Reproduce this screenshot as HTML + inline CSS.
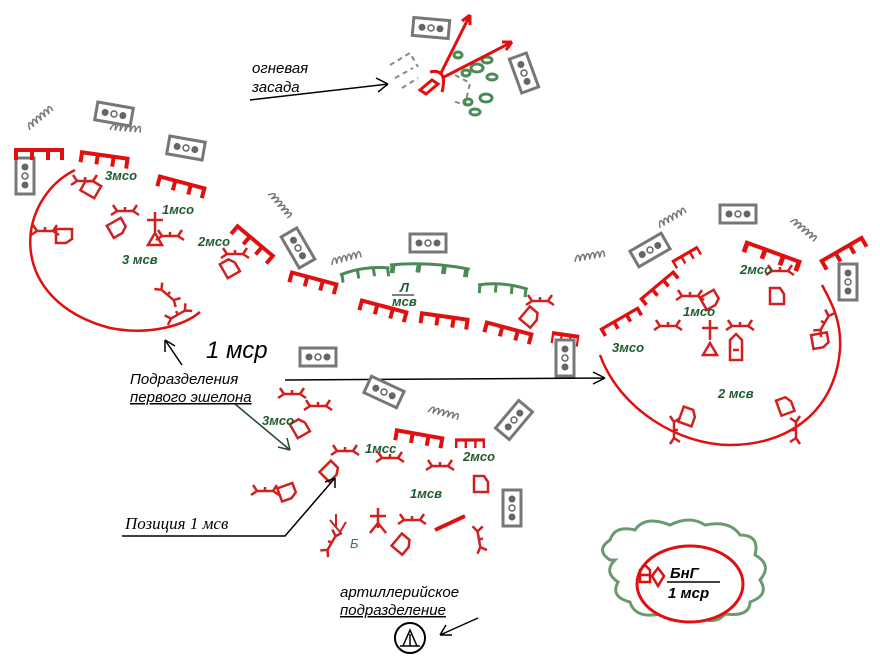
<!DOCTYPE html>
<html><head><meta charset="utf-8"><style>
html,body{margin:0;padding:0;background:#fff;width:880px;height:670px;overflow:hidden}
svg text{font-family:"Liberation Sans",sans-serif;font-style:italic}
</style></head><body>
<svg width="880" height="670" viewBox="0 0 880 670" xmlns="http://www.w3.org/2000/svg">
<defs>
<g id="veh"><rect x="-18" y="-9" width="36" height="18" fill="#fff" stroke="#777" stroke-width="3"/><circle cx="-9" cy="0" r="3.5" fill="#666"/><circle cx="0" cy="0" r="3" fill="none" stroke="#666" stroke-width="1.5"/><circle cx="9" cy="0" r="3.5" fill="#666"/></g>
<g id="coil" fill="none" stroke="#777" stroke-width="1.5"><path d="M0,0 c3,-8 6,-8 5,0 c3,-8 6,-8 5,0 c3,-8 6,-8 5,0 c3,-8 6,-8 5,0 c3,-8 6,-8 5,0 c3,-8 6,-8 5,0"/></g>
<g id="trR" fill="none" stroke="#e01010" stroke-width="4"><path d="M0,0 L50,0 M2,0 v10 M18,0 v10 M34,0 v10 M48,0 v10"/></g>
<g id="trG" fill="none" stroke="#4a8a55" stroke-width="3"><path d="M0,0 Q25,-6 50,0 M2,0 v8 M18,-2 v8 M34,-2 v8 M48,0 v8"/></g>
<g id="sq" fill="none" stroke="#d02020" stroke-width="2.5"><path d="M-8,-4 l-4,-6 M-8,-4 l-6,4 M-8,-4 h16 M8,-4 l4,-6 M8,-4 l6,4 M0,-4 v-4"/></g>
<g id="veh2" fill="none" stroke="#d02020" stroke-width="2.5"><path d="M-6,-10 h10 l4,6 v10 h-14 z"/></g>
</defs>

<!-- top fire ambush -->
<use href="#veh" transform="translate(431,28) rotate(5)"/>
<use href="#veh" transform="translate(524,73) rotate(70)"/>
<g fill="none" stroke="#888" stroke-width="2" stroke-dasharray="5,4"><path d="M390,65 l20,-12 l8,14 M395,78 l18,-10 M402,88 l16,-10"/><path d="M455,75 l15,8 l-5,22 l-12,-4"/></g>
<g fill="none" stroke="#4a8a55" stroke-width="3"><ellipse cx="458" cy="55" rx="4" ry="3"/><ellipse cx="487" cy="60" rx="5" ry="3"/><ellipse cx="477" cy="68" rx="6" ry="4"/><ellipse cx="466" cy="73" rx="4" ry="3"/><ellipse cx="492" cy="77" rx="5" ry="3"/><ellipse cx="486" cy="98" rx="6" ry="4"/><ellipse cx="468" cy="102" rx="4" ry="3"/><ellipse cx="475" cy="112" rx="5" ry="3"/></g>
<g fill="none" stroke="#e01010" stroke-width="3"><path d="M420,90 l12,-10 l6,4 l-12,10 z"/><path d="M430,72 q18,-4 12,20"/><path d="M440,75 L470,15 M470,15 l-8,6 M470,15 l0,10 M442,78 L512,42 M512,42 l-10,0 M512,42 l-6,8"/></g>
<text x="252" y="73" font-size="15">огневая</text><text x="252" y="92" font-size="15">засада</text>
<path d="M250,100 L388,84 M388,84 l-12,-6 M388,84 l-10,8" stroke="#000" stroke-width="1.5" fill="none"/>

<!-- left area -->
<use href="#veh" transform="translate(114,114) rotate(10)"/>
<use href="#veh" transform="translate(186,148) rotate(10)"/>
<use href="#veh" transform="translate(25,176) rotate(90)"/>
<use href="#veh" transform="translate(298,248) rotate(60)"/>
<use href="#coil" transform="translate(30,130) rotate(-40)"/>
<use href="#coil" transform="translate(110,130) rotate(5)"/>
<use href="#coil" transform="translate(268,195) rotate(50)"/>
<use href="#trR" transform="translate(14,150)"/>
<use href="#trR" transform="translate(80,152) rotate(8)"/>
<use href="#trR" transform="translate(158,176) rotate(15)"/>
<use href="#trR" transform="translate(236,225) rotate(40)"/>
<path d="M75,170 C15,200 5,300 110,328 C150,336 185,325 200,312" fill="none" stroke="#e01010" stroke-width="2.5"/>
<g transform="translate(85,185)"><use href="#sq"/></g><use href="#veh2" transform="translate(92,190) rotate(-60)"/>
<use href="#sq" transform="translate(125,215)"/><use href="#veh2" transform="translate(115,228) rotate(60)"/>
<use href="#sq" transform="translate(45,235)"/><use href="#veh2" transform="translate(62,235) rotate(90)"/>
<use href="#sq" transform="translate(170,240)"/>
<path d="M155,212 v20 M147,220 h16 M148,245 l7,-12 l7,12 z" stroke="#d02020" stroke-width="2.5" fill="none"/>
<use href="#sq" transform="translate(235,258)"/><use href="#veh2" transform="translate(230,270) rotate(-30)"/>
<use href="#sq" transform="translate(165,298) rotate(40)"/><use href="#sq" transform="translate(180,318) rotate(-30)"/>
<g fill="#1f5a2e" font-size="13" font-weight="bold"><text x="105" y="180">3мсо</text><text x="162" y="214">1мсо</text><text x="198" y="246">2мсо</text><text x="122" y="264">3 мсв</text></g>

<!-- middle line -->
<use href="#trR" transform="translate(290,272) rotate(15)"/>
<use href="#trR" transform="translate(360,300) rotate(15)"/>
<use href="#trR" transform="translate(420,313) rotate(8)"/>
<use href="#trR" transform="translate(485,322) rotate(15)"/>
<use href="#trR" transform="translate(552,333) rotate(8) scale(0.55,1)"/>
<use href="#trG" transform="translate(340,275) rotate(-8)"/>
<use href="#trG" transform="translate(390,265) scale(1.6,1) rotate(5)"/>
<use href="#trG" transform="translate(478,285) rotate(5)"/>
<use href="#veh" transform="translate(428,243)"/>
<use href="#veh" transform="translate(318,357)"/>
<use href="#veh" transform="translate(565,358) rotate(90)"/>
<use href="#coil" transform="translate(332,265) rotate(-15)"/>
<use href="#sq" transform="translate(540,305)"/><use href="#veh2" transform="translate(528,318) rotate(40)"/>
<g fill="#1f5a2e" font-size="13" font-weight="bold"><text x="400" y="292">Л</text><text x="392" y="306">мсв</text></g>
<path d="M392,295 h22" stroke="#000" stroke-width="1"/>

<!-- right area -->
<use href="#veh" transform="translate(650,250) rotate(-30)"/>
<use href="#veh" transform="translate(738,214)"/>
<use href="#veh" transform="translate(848,282) rotate(90)"/>
<use href="#coil" transform="translate(575,262) rotate(-10)"/>
<use href="#coil" transform="translate(660,228) rotate(-30)"/>
<use href="#coil" transform="translate(790,222) rotate(40)"/>
<use href="#trR" transform="translate(745,242) rotate(20) scale(1.2,1)"/>
<use href="#trR" transform="translate(820,262) rotate(-30) scale(1,1)"/>
<use href="#trR" transform="translate(600,330) rotate(-30) scale(0.9,0.8)"/>
<use href="#trR" transform="translate(640,300) rotate(-40) scale(0.9,0.8)"/>
<use href="#trR" transform="translate(672,262) rotate(-30) scale(0.6,0.8)"/>
<path d="M600,355 C620,410 680,445 730,445 C790,445 835,410 840,350 C842,320 830,300 822,285" fill="none" stroke="#e01010" stroke-width="2.5"/>
<use href="#sq" transform="translate(690,300)"/><use href="#veh2" transform="translate(708,300) rotate(60)"/>
<use href="#sq" transform="translate(668,330)"/><use href="#sq" transform="translate(740,330)"/>
<path d="M710,320 v20 M702,328 h16 M703,355 l7,-12 l7,12 z" stroke="#d02020" stroke-width="2.5" fill="none"/>
<path d="M730,360 v-20 l6,-6 l6,6 v20 z M733,350 h6" stroke="#d02020" stroke-width="2.5" fill="none"/>
<use href="#sq" transform="translate(780,275)"/><use href="#veh2" transform="translate(776,298)"/>
<use href="#sq" transform="translate(828,325) rotate(-60)"/><use href="#veh2" transform="translate(818,340) rotate(80)"/>
<use href="#veh2" transform="translate(686,418) rotate(20)"/><use href="#sq" transform="translate(670,430) rotate(90)"/>
<use href="#veh2" transform="translate(785,408) rotate(-20)"/><use href="#sq" transform="translate(800,430) rotate(-90)"/>
<g fill="#1f5a2e" font-size="13" font-weight="bold"><text x="740" y="274">2мсо</text><text x="683" y="316">1мсо</text><text x="612" y="352">3мсо</text><text x="718" y="398">2 мсв</text></g>

<!-- labels -->
<text x="206" y="358" font-size="24">1 мср</text>
<path d="M182,365 L165,340 M165,340 l0,12 M165,340 l10,6" stroke="#000" stroke-width="1.5" fill="none"/>
<text x="130" y="384" font-size="15">Подразделения</text>
<text x="130" y="402" font-size="15" text-decoration="underline">первого эшелона</text>
<path d="M285,380 L605,378 M605,378 l-12,-6 M605,378 l-12,6" stroke="#000" stroke-width="1.5" fill="none"/>
<path d="M235,404 L290,450 M290,450 l-3,-12 M290,450 l-12,-3" stroke="#1f4a2e" stroke-width="1.5" fill="none"/>

<!-- bottom position -->
<use href="#veh" transform="translate(384,392) rotate(25)"/>
<use href="#veh" transform="translate(514,420) rotate(-50)"/>
<use href="#veh" transform="translate(512,508) rotate(90)"/>
<use href="#coil" transform="translate(428,412) rotate(15)"/>
<use href="#trR" transform="translate(395,430) rotate(10)"/>
<use href="#trR" transform="translate(455,440) rotate(0) scale(0.6,0.8)"/>
<use href="#sq" transform="translate(292,398)"/><use href="#sq" transform="translate(318,410)"/>
<use href="#veh2" transform="translate(300,430) rotate(-30)"/>
<use href="#sq" transform="translate(345,455)"/><use href="#sq" transform="translate(390,462)"/><use href="#sq" transform="translate(440,470)"/>
<use href="#veh2" transform="translate(328,472) rotate(45)"/><use href="#veh2" transform="translate(480,486)"/>
<use href="#veh2" transform="translate(285,492) rotate(70)"/><use href="#sq" transform="translate(265,495)"/>
<path d="M378,508 v20 M370,516 h16 M370,533 l8,-10 l8,10" stroke="#d02020" stroke-width="2.5" fill="none"/>
<use href="#sq" transform="translate(412,524)"/><use href="#veh2" transform="translate(400,545) rotate(40)"/>
<path d="M435,530 l30,-14" stroke="#e01010" stroke-width="4"/>
<use href="#sq" transform="translate(335,545) rotate(-60)"/><use href="#sq" transform="translate(475,540) rotate(80)"/>
<path d="M330,520 l10,12 l6,-10 M336,514 v14" stroke="#d02020" stroke-width="2" fill="none"/>
<text x="350" y="548" fill="#3a7a45" font-size="13">Б</text>
<g fill="#1f5a2e" font-size="13" font-weight="bold"><text x="262" y="425">3мсо</text><text x="365" y="453">1мсс</text><text x="463" y="461">2мсо</text><text x="410" y="498">1мсв</text></g>
<text x="125" y="529" font-size="17" font-family="Liberation Serif" style="font-family:'Liberation Serif',serif">Позиция 1 мсв</text>
<path d="M122,536 L285,536 L335,478 M335,478 l-10,4 M335,478 l0,10" stroke="#000" stroke-width="1.5" fill="none"/>
<text x="340" y="597" font-size="15">артиллерийское</text>
<text x="340" y="615" font-size="15" text-decoration="underline">подразделение</text>
<path d="M478,618 L440,635 M440,635 l12,0 M440,635 l6,-10" stroke="#000" stroke-width="1.5" fill="none"/>
<circle cx="410" cy="638" r="15" fill="none" stroke="#000" stroke-width="2"/>
<path d="M400,646 h20 M403,646 l7,-16 l7,16 M410,634 v12" stroke="#000" stroke-width="1.5" fill="none"/>

<!-- BnG -->
<path d="M610,560 q-15,-10 0,-20 q5,-15 25,-10 q10,-15 35,-5 q20,-10 35,0 q25,-5 35,10 q20,0 15,20 q18,10 5,25 q10,15 -10,22 q0,15 -25,12 q-10,12 -30,2 q-20,10 -35,-2 q-25,5 -30,-12 q-20,-5 -12,-20 q-15,-10 -3,-22 z" fill="none" stroke="#6a9a6e" stroke-width="3"/>
<ellipse cx="690" cy="584" rx="53" ry="38" fill="#fff" stroke="#e01010" stroke-width="3"/>
<path d="M640,582 v-12 l5,-5 l5,5 v12 z M640,575 h10 M658,568 l6,8 l-6,10 l-6,-10 z" stroke="#e01010" stroke-width="2.5" fill="none"/>
<text x="670" y="578" font-size="15" font-weight="bold" fill="#000">БнГ</text>
<path d="M667,582 h53" stroke="#000" stroke-width="1.5"/>
<text x="668" y="598" font-size="15" font-weight="bold" fill="#000">1 мср</text>
</svg>
</body></html>
